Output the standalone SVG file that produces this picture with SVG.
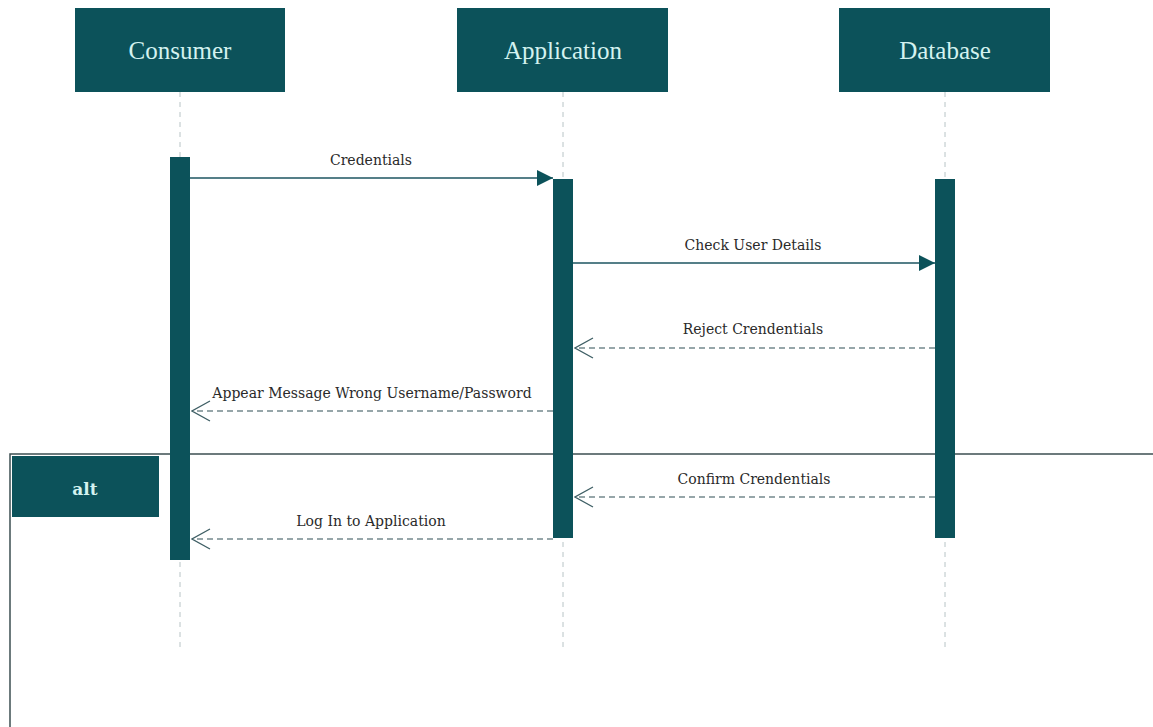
<svg xmlns="http://www.w3.org/2000/svg" width="1153" height="727" viewBox="0 0 1153 727">
  <style>
    .head { fill: #0c525a; }
    .head-text { font-family: "Liberation Serif", "DejaVu Serif", serif; font-size: 25px; fill: #d4f2f0; text-anchor: middle; }
    .life { stroke: #b8c4c6; stroke-width: 1; stroke-dasharray: 5 5; fill: none; }
    .bar { fill: #0c525a; }
    .msg { stroke: #1d5560; stroke-width: 1.5; fill: none; }
    .ret { stroke: #2f4f55; stroke-width: 1.2; stroke-dasharray: 6 4; fill: none; }
    .label { font-family: "DejaVu Serif", "Liberation Serif", serif; font-size: 14px; fill: #2a2a2a; text-anchor: middle; }
    .frame { stroke: #3d4f52; stroke-width: 1.5; fill: none; }
    .alt-text { font-family: "DejaVu Serif", "Liberation Serif", serif; font-size: 17px; font-weight: bold; fill: #d4f2f0; text-anchor: middle; }
  </style>
  <defs>
    <marker id="filled" markerWidth="16" markerHeight="16" refX="16" refY="8" orient="auto" markerUnits="userSpaceOnUse">
      <path d="M0,0 L16,8 L0,16 Z" fill="#0c525a"/>
    </marker>
    <marker id="open" markerWidth="20" markerHeight="22" refX="19" refY="11" orient="auto" markerUnits="userSpaceOnUse">
      <path d="M1,1 L19,11 L1,21" fill="none" stroke="#3f5f65" stroke-width="1.3"/>
    </marker>
  </defs>

  <rect width="1153" height="727" fill="#ffffff"/>

  <!-- alt combined fragment -->
  <g id="alt-frame">
    <path class="frame" d="M10,727 L10,454 L1153,454"/>
    <rect x="12" y="456" width="147" height="61" class="head"/>
    <text x="85" y="495" class="alt-text">alt</text>
  </g>

  <!-- participants -->
  <g id="consumer">
    <rect x="75" y="8" width="210" height="84" class="head"/>
    <text x="180" y="59" class="head-text">Consumer</text>
    <line x1="180" y1="92" x2="180" y2="648" class="life"/>
    <rect x="170" y="157" width="20" height="403" class="bar"/>
  </g>
  <g id="application">
    <rect x="457" y="8" width="211" height="84" class="head"/>
    <text x="563" y="59" class="head-text">Application</text>
    <line x1="563" y1="92" x2="563" y2="648" class="life"/>
    <rect x="553" y="179" width="20" height="359" class="bar"/>
  </g>
  <g id="database">
    <rect x="839" y="8" width="211" height="84" class="head"/>
    <text x="945" y="59" class="head-text">Database</text>
    <line x1="945" y1="92" x2="945" y2="648" class="life"/>
    <rect x="935" y="179" width="20" height="359" class="bar"/>
  </g>

  <!-- messages -->
  <g id="connectors">
    <line x1="190" y1="178" x2="553" y2="178" class="msg" marker-end="url(#filled)"/>
    <text x="371" y="165" class="label">Credentials</text>

    <line x1="573" y1="263" x2="935" y2="263" class="msg" marker-end="url(#filled)"/>
    <text x="753" y="250" class="label">Check User Details</text>

    <line x1="935" y1="348" x2="575" y2="348" class="ret" marker-end="url(#open)"/>
    <text x="753" y="334" class="label">Reject Crendentials</text>

    <line x1="553" y1="411" x2="192" y2="411" class="ret" marker-end="url(#open)"/>
    <text x="372" y="398" class="label">Appear Message Wrong Username/Password</text>

    <line x1="935" y1="497" x2="575" y2="497" class="ret" marker-end="url(#open)"/>
    <text x="754" y="484" class="label">Confirm Crendentials</text>

    <line x1="553" y1="539" x2="192" y2="539" class="ret" marker-end="url(#open)"/>
    <text x="371" y="526" class="label">Log In to Application</text>
  </g>
</svg>
